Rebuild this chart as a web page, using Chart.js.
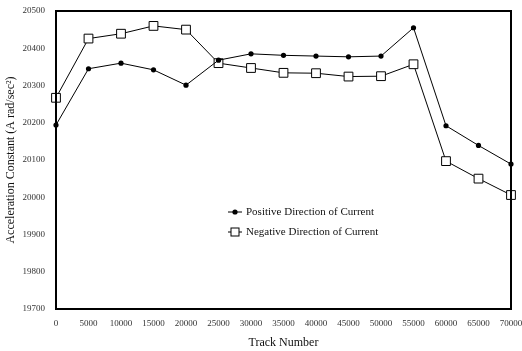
<!DOCTYPE html>
<html>
<head>
<meta charset="utf-8">
<script src="https://cdn.jsdelivr.net/npm/chart.js@4.4.1/dist/chart.umd.min.js"></script>
<style>
html,body{margin:0;padding:0;background:#fff;}
#wrap{position:relative;width:522px;height:351px;}
</style>
</head>
<body>
<div id="wrap"><canvas id="c" width="522" height="351"></canvas></div>
<script>
const trackNumbers = ["0","5000","10000","15000","20000","25000","30000","35000","40000","45000","50000","55000","60000","65000","70000"];
const positiveCurrent = [20194,20345,20360,20342,20301,20368,20385,20381,20379,20377,20379,20455,20192,20139,20089];
const negativeCurrent = [20267,20426,20439,20460,20450,20360,20347,20334,20333,20324,20325,20357,20097,20050,20006];
const seriesNames = ["Positive Direction of Current","Negative Direction of Current"];
const yTitle = "Acceleration Constant (A rad/sec\u00B2)";
const xTitle = "Track Number";

const serif = "'Liberation Serif', 'DejaVu Serif', serif";

const framePlugin = {
  id: 'frame',
  afterDatasetsDraw(chart) {
    const {ctx, chartArea: a} = chart;
    ctx.save();
    ctx.strokeStyle = '#000';
    ctx.lineWidth = 2;
    ctx.strokeRect(a.left, a.top, a.right - a.left, a.bottom - a.top);
    ctx.restore();
  }
};

const legendPlugin = {
  id: 'inLegend',
  afterDraw(chart) {
    const {ctx} = chart;
    const items = [
      {y: 212, ds: chart.data.datasets[0]},
      {y: 232, ds: chart.data.datasets[1]}
    ];
    ctx.save();
    items.forEach(it => {
      const x0 = 228, x1 = 242, xm = 235;
      ctx.strokeStyle = '#000';
      ctx.lineWidth = 1;
      ctx.beginPath(); ctx.moveTo(x0, it.y); ctx.lineTo(x1, it.y); ctx.stroke();
      if (it.ds.pointStyle === 'rect') {
        ctx.fillStyle = '#fff';
        ctx.fillRect(xm - 4, it.y - 4, 8, 8);
        ctx.strokeRect(xm - 4, it.y - 4, 8, 8);
      } else {
        ctx.fillStyle = '#000';
        ctx.beginPath(); ctx.arc(xm, it.y, 2.6, 0, Math.PI * 2); ctx.fill();
      }
      ctx.fillStyle = '#111';
      ctx.font = "11px " + serif;
      ctx.textBaseline = 'middle';
      ctx.textAlign = 'left';
      ctx.fillText(it.ds.label, 246, it.y + 0.5);
    });
    ctx.restore();
  }
};

function noPad(s) {
  s.paddingTop = 0; s.paddingBottom = 0; s.paddingLeft = 0; s.paddingRight = 0;
}

new Chart(document.getElementById('c'), {
  type: 'line',
  data: {
    labels: trackNumbers,
    datasets: [
      {
        label: seriesNames[0],
        data: positiveCurrent,
        borderColor: '#000',
        borderWidth: 1,
        pointStyle: 'circle',
        pointRadius: 2.6,
        pointBackgroundColor: '#000',
        pointBorderColor: '#000',
        pointBorderWidth: 0,
        tension: 0,
        clip: false
      },
      {
        label: seriesNames[1],
        data: negativeCurrent,
        borderColor: '#000',
        borderWidth: 1,
        pointStyle: 'rect',
        pointRadius: 6.2,
        pointBackgroundColor: '#fff',
        pointBorderColor: '#000',
        pointBorderWidth: 1,
        tension: 0,
        clip: false
      }
    ]
  },
  options: {
    responsive: false,
    animation: false,
    devicePixelRatio: 1,
    layout: { padding: { top: 11, right: 11, left: 0, bottom: 0 } },
    plugins: {
      legend: { display: false },
      tooltip: { enabled: false }
    },
    scales: {
      x: {
        type: 'category',
        offset: false,
        grid: { display: false, drawTicks: false },
        border: { display: false },
        ticks: {
          autoSkip: false,
          maxRotation: 0,
          padding: 9,
          color: '#333',
          font: { family: serif, size: 9 }
        },
        title: {
          display: true,
          text: xTitle,
          color: '#111',
          font: { family: serif, size: 12 },
          padding: { top: 4, bottom: 1 }
        },
        afterFit(s) { s.height = 42; noPad(s); }
      },
      y: {
        min: 19700,
        max: 20500,
        grid: { display: false, drawTicks: false },
        border: { display: false },
        ticks: {
          stepSize: 100,
          padding: 11,
          color: '#333',
          font: { family: serif, size: 9 },
          callback: v => String(v)
        },
        title: {
          display: true,
          text: yTitle,
          color: '#111',
          font: { family: serif, size: 12 },
          padding: { top: 4, bottom: 0 }
        },
        afterFit(s) { s.width = 56; noPad(s); }
      }
    }
  },
  plugins: [framePlugin, legendPlugin]
});
</script>
</body>
</html>
